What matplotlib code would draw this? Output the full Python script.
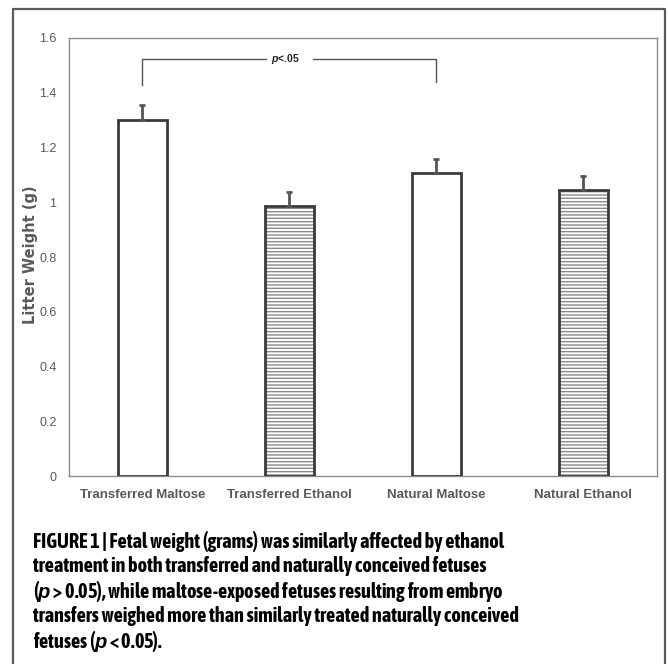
import matplotlib
matplotlib.use("Agg")
import matplotlib.pyplot as plt
from matplotlib import font_manager
from matplotlib.lines import Line2D

# ── data ────────────────────────────────────────────────────────────────────
groups = ["Transferred Maltose", "Transferred Ethanol", "Natural Maltose", "Natural Ethanol"]
weights = [1.30, 0.985, 1.105, 1.043]
errors = [0.055, 0.052, 0.052, 0.052]
hatched = [False, True, False, True]
yticks = [0, 0.2, 0.4, 0.6, 0.8, 1, 1.2, 1.4, 1.6]
ytick_labels = ["0", "0.2", "0.4", "0.6", "0.8", "1", "1.2", "1.4", "1.6"]
bracket_pair = (0, 2)
bracket_y = 1.523
bracket_leg_bottom = 1.43

caption = [
    "FIGURE 1 | Fetal weight (grams) was similarly affected by ethanol",
    "treatment in both transferred and naturally conceived fetuses",
    "($\\boldsymbol{p}$ > 0.05), while maltose-exposed fetuses resulting from embryo",
    "transfers weighed more than similarly treated naturally conceived",
    "fetuses ($\\boldsymbol{p}$ < 0.05).",
]

GREY_TXT = "#595959"
EDGE = "#3a3a3a"

# a narrow bold family for the caption, if one is installed
bold_narrow = sorted({f.name for f in font_manager.fontManager.ttflist
                      if ("Narrow" in f.name or "Condensed" in f.name)
                      and isinstance(f.weight, int) and f.weight >= 600})
CAP_FONT = bold_narrow[0] if bold_narrow else "Liberation Sans"

plt.rcParams["hatch.linewidth"] = 1.0
plt.rcParams["mathtext.fontset"] = "custom"
plt.rcParams["mathtext.bfit"] = "Liberation Sans:bold:italic"

fig = plt.figure(figsize=(6.68, 6.64), dpi=100)
ax = fig.add_axes([0.1033, 0.2831, 0.88, 0.6597])

x = list(range(len(groups)))
width = 0.33

# hatch layer (grey lines), then outline layer (dark edges)
plt.rcParams["hatch.color"] = "#8a8a8a"
for xi, w, h in zip(x, weights, hatched):
    if h:
        ax.bar(xi, w, width, color="white", edgecolor="#8a8a8a",
               hatch="-----", linewidth=0, zorder=2)
ax.bar(x, weights, width, color="none", edgecolor=EDGE, linewidth=2.0, zorder=3)
ax.errorbar(x, weights, yerr=[[0] * len(errors), errors], fmt="none",
            ecolor="#555555", elinewidth=2.0, capsize=2.5, capthick=2.0, zorder=4)

# significance bracket
a, b = bracket_pair
mid = (a + b) / 2
gap = 0.16
ax.plot([a, a, mid - gap], [bracket_leg_bottom, bracket_y, bracket_y],
        color="#555555", lw=1.0, zorder=4)
ax.plot([mid + gap, b, b], [bracket_y, bracket_y, bracket_leg_bottom + 0.01],
        color="#555555", lw=1.0, zorder=4)
ax.text(mid - 0.03, bracket_y, "$\\boldsymbol{p}$<.05", ha="center", va="center",
        fontsize=7.5, fontweight="bold", color="#222222", family="Liberation Sans")

ax.set_xlim(-0.5, 3.5)
ax.set_ylim(0, 1.6)
ax.set_yticks(yticks)
ax.set_yticklabels(ytick_labels)
ax.set_xticks(x)
ax.set_xticklabels(groups, fontweight="bold")
ax.tick_params(axis="both", length=0, colors=GREY_TXT)
ax.tick_params(axis="x", pad=9, labelsize=9.5)
ax.tick_params(axis="y", pad=9, labelsize=9)
for lab in ax.get_xticklabels() + ax.get_yticklabels():
    lab.set_family("Liberation Sans")
for s in ax.spines.values():
    s.set_color("#8c8c8c")
    s.set_linewidth(1.0)

fig.text(0.046, 0.617, "Litter Weight (g)", rotation=90, ha="center", va="center",
         fontsize=10.5, fontweight="heavy", color=GREY_TXT, family="DejaVu Sans")

# outer frame (left, top, right)
fx0, fx1, fy1 = 0.0195, 0.9955, 0.9864
fig.add_artist(Line2D([fx0, fx0, fx1, fx1], [0.0, fy1, fy1, 0.0],
                      transform=fig.transFigure, color="#5a5a5a", lw=1.6))

cap_texts = []
for i, line in enumerate(caption):
    t = fig.text(0.049, 0.185 - i * 0.0377, line, ha="left", va="center",
                 fontsize=13, fontweight="bold", color="black", family=CAP_FONT)
    cap_texts.append(t)

# fit the caption's first line to the width it has in the reference (~487 px)
r = fig.canvas.get_renderer()
w0 = cap_texts[0].get_window_extent(r).width
size = min(14.5, 13 * 487 / w0)
for t in cap_texts:
    t.set_fontsize(size)

fig.savefig("out.png", dpi=100, facecolor="white")
